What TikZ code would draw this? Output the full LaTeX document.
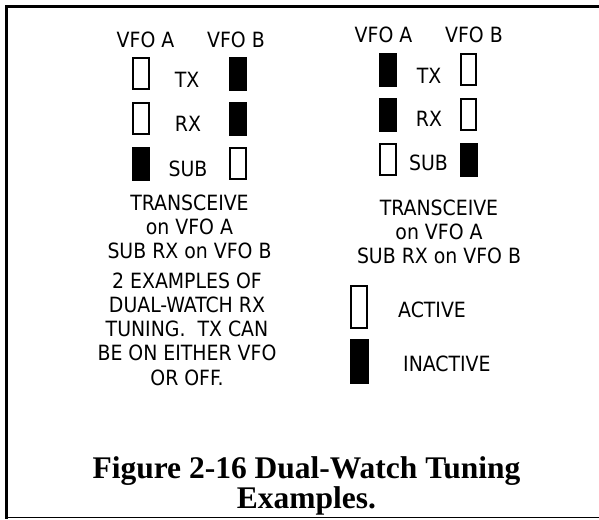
\documentclass[tikz,border=0pt]{standalone}
\usepackage{fontspec}
\newfontfamily\tah{DejaVu Sans Condensed}
\newfontfamily\tim{Liberation Serif}
\begin{document}
\begin{tikzpicture}[x=1pt,y=-1pt,
  lbl/.style={font=\tah\fontsize{21}{24}\selectfont, inner sep=0pt, anchor=base},
  ttl/.style={font=\tim\bfseries\fontsize{31.5}{30}\selectfont, inner sep=0pt, anchor=base},
  onbox/.style={draw=black, line width=1.6pt, fill=white, minimum width=15.5pt, minimum height=31.5pt, inner sep=0pt},
  offbox/.style={draw=black, fill=black, line width=0.5pt, minimum width=17pt, minimum height=33pt, inner sep=0pt},
  frame/.style={line width=3pt, line cap=rect}]
\useasboundingbox (0,0) rectangle (599,519);
% frame
\coordinate (tl) at (6.5,6.5);
\coordinate (tr) at (599,6.5);
\coordinate (bl) at (6.5,517.5);
\coordinate (br) at (599,517.5);
\draw[frame] (tr) -- (tl) -- (bl);
\draw[line width=1.3pt] (bl) -- (br);

% left example
\node[lbl] (lva) at (145.5,48) {VFO A};
\node[lbl] (lvb) at (236,48) {VFO B};
\node[onbox]  (ltxa) at (141,73.5) {};
\node[lbl]    (ltx)  at (187,87) {TX};
\node[offbox] (ltxb) at (238,73.5) {};
\node[onbox]  (lrxa) at (141,118.5) {};
\node[lbl]    (lrx)  at (188,131) {RX};
\node[offbox] (lrxb) at (238,118.5) {};
\node[offbox] (lsba) at (141,163.5) {};
\node[lbl]    (lsb)  at (188,176) {SUB};
\node[onbox]  (lsbb) at (238,163.5) {};
\node[lbl] (lc1) at (189.5,210) {TRANSCEIVE};
\node[lbl] (lc2) at (189.5,234) {on VFO A};
\node[lbl] (lc3) at (189.5,258) {SUB RX on VFO B};
\node[lbl] (lp1) at (187,288) {2 EXAMPLES OF};
\node[lbl] (lp2) at (187,312) {DUAL-WATCH RX};
\node[lbl] (lp3) at (187,336) {TUNING.\ \ TX CAN};
\node[lbl] (lp4) at (187,360) {BE ON EITHER VFO};
\node[lbl] (lp5) at (187,385) {OR OFF.};

% right example
\node[lbl] (rva) at (383.5,43) {VFO A};
\node[lbl] (rvb) at (474,43) {VFO B};
\node[offbox] (rtxa) at (388,69.5) {};
\node[lbl]    (rtx)  at (429,83) {TX};
\node[onbox]  (rtxb) at (468.5,69.5) {};
\node[offbox] (rrxa) at (388,114.5) {};
\node[lbl]    (rrx)  at (429,126) {RX};
\node[onbox]  (rrxb) at (468.5,114.5) {};
\node[onbox]  (rsba) at (388,159.5) {};
\node[lbl]    (rsb)  at (428.5,170) {SUB};
\node[offbox] (rsbb) at (468.5,159.5) {};
\node[lbl] (rc1) at (439,215) {TRANSCEIVE};
\node[lbl] (rc2) at (439,239) {on VFO A};
\node[lbl] (rc3) at (439,263) {SUB RX on VFO B};

% legend
\node[onbox, minimum width=16.5pt, minimum height=42.5pt] (act) at (359,307) {};
\node[lbl, anchor=base west] (actt) at (398,317) {ACTIVE};
\node[offbox, minimum width=18pt, minimum height=44pt] (inact) at (359,361) {};
\node[lbl, anchor=base west] (inactt) at (403,371) {INACTIVE};

% title
\node[ttl] (t1) at (306.5,478) {Figure 2-16 Dual-Watch Tuning};
\node[ttl] (t2) at (306.5,508) {Examples.};
\end{tikzpicture}
\end{document}
